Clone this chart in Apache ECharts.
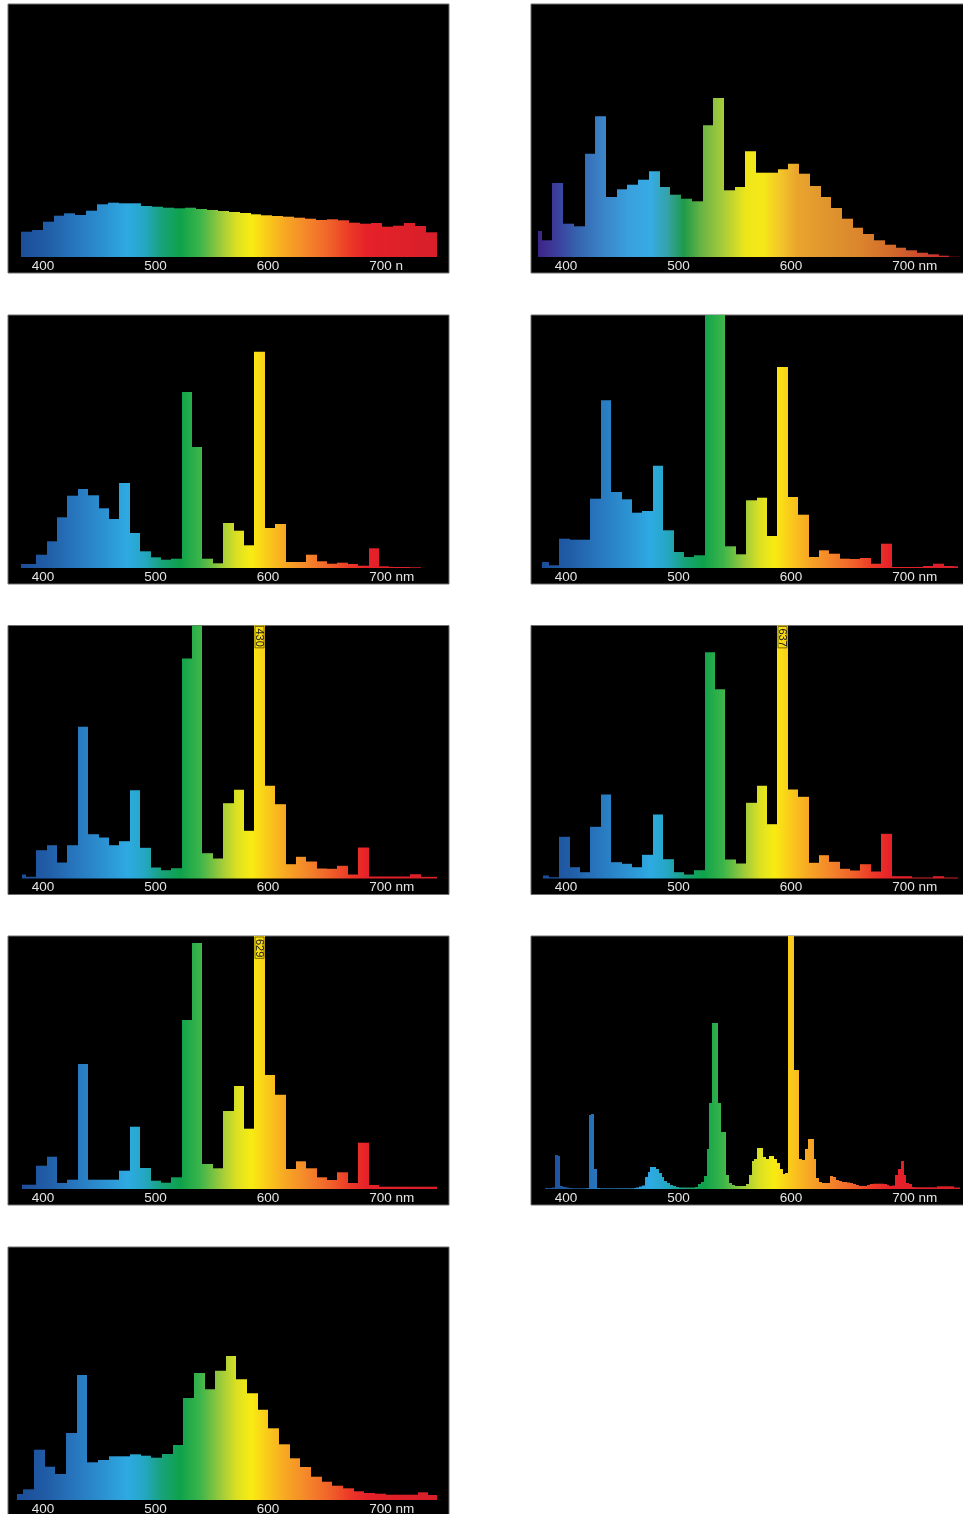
<!DOCTYPE html>
<html><head><meta charset="utf-8">
<script src="https://cdn.jsdelivr.net/npm/echarts@6/dist/echarts.min.js"></script>
<style>html,body{margin:0;padding:0;background:#fff}#c{width:963px;height:1514px}</style>
</head><body><div id="c"></div><script>
// ---------- data ----------
const tickValues = [400, 500, 600, 700];
const unitLabels = ['n', 'nm', 'nm', 'nm', 'nm', 'nm', 'nm', 'nm', 'nm'];

// bins: [start nm, step nm, first visible nm, last visible nm]
const p1Bins = [380.15, 9.73, 380.15, 750.4];
const p1Values = [25.3, 27, 35.3, 41.3, 43.7, 42, 46.3, 52.7, 54.3, 53.7, 53.7, 51, 50.3, 49.3, 48.7, 49.3, 48, 47, 46, 45,
  44, 42.7, 41.7, 41, 40.3, 39.3, 38.3, 37, 37.7, 36.7, 34.3, 33.3, 34, 30.3, 31.3, 34, 31, 24.7];

const p2Bins = [368.84, 9.535, 374.8, 750.2];
const p2Values = [26, 16.7, 74, 33.3, 30.7, 103.3, 140.7, 60, 67.7, 72.3, 77.3, 85.7, 70, 62.3, 58.3, 55.7, 131.7, 159, 66.7, 70,
  105.7, 84.3, 84.3, 87.7, 93.3, 83.3, 71, 60, 49, 38.3, 29.3, 23, 16.7, 12.3, 9.3, 6.7, 4.3, 2.7, 1.3, 0.3];

const p3Bins = [375.6, 9.23, 380.2, 737.5];
const p3Values = [4, 4, 13.3, 26.7, 50.7, 72.3, 79, 72.7, 59.7, 49, 85, 35, 16.7, 10.7, 8.3, 9.3, 176, 121, 9.3, 4.7,
  45, 37.3, 22.7, 216.3, 40, 44, 6, 6, 13.3, 6.7, 4.3, 5.3, 4, 2.3, 19.7, 1.7, 1, 1, 0.7];

const p4Bins = [375.6, 9.23, 379.0, 748.7];
const p4Values = [6, 2.7, 29.3, 28.3, 28.3, 69.3, 167.7, 76, 68.7, 55.3, 57, 102.3, 37.7, 16, 11, 12.7, 300, 300, 21.7, 13.7,
  67.7, 70.3, 32, 201, 71, 53.3, 11, 17.7, 14.3, 9.3, 9, 10, 4.3, 24.3, 1, 1, 1, 2, 4.3, 2, 1.7];

const p5Bins = [375.6, 9.23, 381.0, 749.9];
const p5Values = [4, 1.7, 28.3, 33.3, 16, 33.3, 151.7, 44.3, 41, 33.3, 37.3, 88.3, 30.7, 11, 8.3, 10.3, 220, 270, 25.3, 20,
  75.3, 88.7, 47.7, 430, 92.7, 74.3, 14.3, 21.7, 17, 10, 9.7, 12.7, 4, 31, 2, 2, 2, 2, 4.3, 1.7, 1.7];
const p5LabelBin = 23;

const p6Bins = [375.6, 9.23, 379.85, 748.7];
const p6Values = [3, 1.3, 41.7, 11.3, 6.3, 51.7, 84, 16.3, 14.7, 11.3, 23.7, 64, 19.3, 6.3, 4, 8.3, 226.3, 189.3, 19, 15,
  75.7, 92.7, 54.3, 637, 89, 81.7, 15.7, 23.3, 16.7, 9.7, 8, 14.3, 7, 44.7, 2.3, 2.3, 1, 1, 2.3, 1, 1];
const p6LabelBin = 23;

const p7Bins = [375.6, 9.23, 381.0, 749.9];
const p7Values = [4.3, 4.3, 23.3, 32.3, 6, 9.3, 125, 9.3, 9.3, 9.3, 18.3, 62.3, 21, 8.3, 6.3, 11.7, 169, 246, 25, 20.7,
  78, 103, 60.3, 629, 114, 94.3, 20, 27.7, 20.7, 11.7, 9, 16.7, 6, 46.3, 4, 2.3, 2.3, 2.3, 2.3, 2.3, 2.3];
const p7LabelBin = 23;

const p8Bins = [380, 2.5, 381.3, 750];
const p8Values = [
  1, 1, 1, 1.5, 34, 33, 3, 2, 1.5, 1, 0.7, 0.7, 0.7, 0.7, 0.7, 1, 74, 75, 20, 1,
  0.7, 0.7, 0.7, 0.7, 0.7, 0.7, 0.7, 0.7, 0.7, 0.7, 0.7, 0.7, 1, 1.5, 2.5, 3.5, 12, 17, 22, 22,
  20, 16, 12, 8, 6, 4, 3, 2, 1.5, 1.5, 1.5, 1.5, 1.5, 1.5, 2, 5, 7, 13, 40, 86,
  166, 166, 86, 57, 57, 14, 6, 4, 3, 3, 3, 3, 5, 14, 28, 30, 41, 41, 32, 30,
  33, 33, 30, 26, 20, 15, 16, 300, 300, 119, 119, 30, 29, 40, 50, 50, 30, 11, 7, 6,
  6, 6, 13, 12, 9, 8, 7, 7, 6.5, 6, 5, 4, 3, 3, 3, 4, 5, 5.3, 5.3, 5.3,
  5.3, 5, 4, 3, 3.5, 14, 20, 28, 14, 6, 5, 2, 1.7, 1.7, 1.7, 1.7, 1.7, 1.7, 1.7, 1.7,
  2.7, 2.7, 2.7, 2.7, 2.7, 2.7, 1.5, 1.5];

const p9Bins = [373.06, 9.473, 377.2, 750.5];
const p9Values = [6, 10.7, 50.3, 33.3, 26, 67, 125, 37.7, 40, 43.7, 43.7, 45.7, 44.3, 42.3, 46, 55, 102, 127, 110.7, 129.3,
  144, 120.7, 106.7, 90.3, 71.7, 55.7, 41.7, 33, 23.3, 18.3, 14.3, 11.7, 8.7, 7, 6.3, 5.3, 5.3, 5.3, 7.7, 5];

// ---------- styling ----------
const SPECTRUM = [
  [370, '#1c4c96'], [380, '#1c4d98'], [405, '#215ea8'], [430, '#2878bf'], [455, '#2c92d2'], [475, '#2eaae2'],
  [490, '#24a7c4'], [505, '#18a27c'], [522, '#0ea24b'], [540, '#3db54a'], [558, '#9cca3c'],
  [572, '#dbe023'], [585, '#f8ec12'], [600, '#fac91b'], [615, '#f7a823'], [635, '#f4862a'],
  [655, '#f0622a'], [672, '#ec3a27'], [688, '#e62129'], [750, '#d61f2a'], [762, '#d61f2a']
];
const SPECTRUM_VIOLET = [
  [370, '#3d2488'], [375, '#3d2488'], [392, '#3b3f9c'], [410, '#3563ae'], [430, '#3a80c4'], [455, '#3a9fdd'],
  [475, '#36abe5'], [490, '#35a3a8'], [505, '#1f9a48'], [520, '#67b444'], [540, '#a9cc3a'],
  [560, '#eee61a'], [575, '#f6e817'], [590, '#f3c72a'], [605, '#eaa52d'], [630, '#e0962d'],
  [660, '#db862d'], [690, '#d46a2b'], [715, '#cc4a2d'], [735, '#c92b2f'], [750, '#c8102e'], [762, '#c8102e']
];

const PX_PER_NM = 1.125;
const AX_MIN = 400 - 35 / PX_PER_NM;
const AX_MAX = AX_MIN + 441 / PX_PER_NM;
const Y_MIN = -16, Y_MAX = 253;
const ROW_TOPS = [4, 315, 625.5, 936, 1247];

const panels = [
  { bins: p1Bins, values: p1Values, pal: SPECTRUM, row: 0, col: 0, label: -1 },
  { bins: p2Bins, values: p2Values, pal: SPECTRUM_VIOLET, row: 0, col: 1, label: -1 },
  { bins: p3Bins, values: p3Values, pal: SPECTRUM, row: 1, col: 0, label: -1 },
  { bins: p4Bins, values: p4Values, pal: SPECTRUM, row: 1, col: 1, label: -1 },
  { bins: p5Bins, values: p5Values, pal: SPECTRUM, row: 2, col: 0, label: p5LabelBin },
  { bins: p6Bins, values: p6Values, pal: SPECTRUM, row: 2, col: 1, label: p6LabelBin },
  { bins: p7Bins, values: p7Values, pal: SPECTRUM, row: 3, col: 0, label: p7LabelBin },
  { bins: p8Bins, values: p8Values, pal: SPECTRUM, row: 3, col: 1, label: -1 },
  { bins: p9Bins, values: p9Values, pal: SPECTRUM, row: 4, col: 0, label: -1 }
];

function binData(bins, values) {
  const [start, step, from, to] = bins;
  return values.map((v, i) => {
    const lo = Math.max(from, start + i * step);
    const hi = Math.min(to, start + (i + 1) * step);
    return [lo, hi, v, i];
  }).filter(d => d[1] > d[0]);
}

function makeRender(pal, labelBin) {
  return function (params, api) {
    const x0 = api.value(0), x1 = api.value(1), v = api.value(2), idx = api.value(3);
    const cs = params.coordSys;
    const a = api.coord([x0, 0]);
    const b = api.coord([x1, v]);
    const g0 = api.coord([pal[0][0], 0])[0];
    const g1 = api.coord([pal[pal.length - 1][0], 0])[0];
    const span = pal[pal.length - 1][0] - pal[0][0];
    const stops = pal.map(s => ({ offset: (s[0] - pal[0][0]) / span, color: s[1] }));
    const fill = new echarts.graphic.LinearGradient(g0, 0, g1, 0, stops, true);
    const left = Math.round(a[0]), right = Math.round(b[0]);
    const rect = echarts.graphic.clipRectByRect(
      { x: left, y: b[1], width: Math.max(1, right - left), height: a[1] - b[1] },
      { x: cs.x, y: cs.y, width: cs.width, height: cs.height }
    );
    if (!rect) return null;
    const children = [{ type: 'rect', shape: rect, style: { fill: fill } }];
    if (idx === labelBin) {
      children.push({
        type: 'text',
        x: (left + right) / 2,
        y: rect.y + 1,
        rotation: -Math.PI / 2,
        style: {
          text: String(v), fill: '#1a1a1a', fontSize: 11, fontFamily: 'Liberation Sans',
          align: 'left', verticalAlign: 'middle', lineHeight: 9,
          borderColor: '#5c4f00', borderWidth: 0.8, padding: [0, 1, 0, 2]
        }
      });
    }
    return { type: 'group', children: children };
  };
}

const grids = [], xAxes = [], yAxes = [], series = [];
panels.forEach((p, i) => {
  grids.push({
    left: 8 + p.col * 523, top: ROW_TOPS[p.row], width: 441, height: 269,
    show: true, backgroundColor: '#000', borderColor: '#6e6e6e', borderWidth: 1,
    containLabel: false, outerBoundsMode: 'none'
  });
  const unit = unitLabels[i];
  const padW = unit === 'nm' ? 22.5 : 11.25;
  xAxes.push({
    gridIndex: i, type: 'value', min: AX_MIN, max: AX_MAX, position: 'bottom', offset: Y_MIN,
    axisLine: { show: false, onZero: false }, axisTick: { show: false }, splitLine: { show: false },
    axisLabel: {
      customValues: tickValues, color: '#e4e4e4', fontSize: 13.5, fontFamily: 'Liberation Sans', margin: 2,
      formatter: val => (val === 700 ? '{p| }700 ' + unit : String(val)),
      rich: { p: { width: padW } }
    }
  });
  yAxes.push({ gridIndex: i, type: 'value', min: Y_MIN, max: Y_MAX, show: false });
  series.push({
    type: 'custom', xAxisIndex: i, yAxisIndex: i,
    data: binData(p.bins, p.values),
    encode: { x: [0, 1], y: 2 },
    renderItem: makeRender(p.pal, p.label),
    silent: true
  });
});

const chart = echarts.init(document.getElementById('c'), null, { renderer: 'canvas' });
chart.setOption({ animation: false, backgroundColor: '#fff', grid: grids, xAxis: xAxes, yAxis: yAxes, series: series });
</script></body></html>
